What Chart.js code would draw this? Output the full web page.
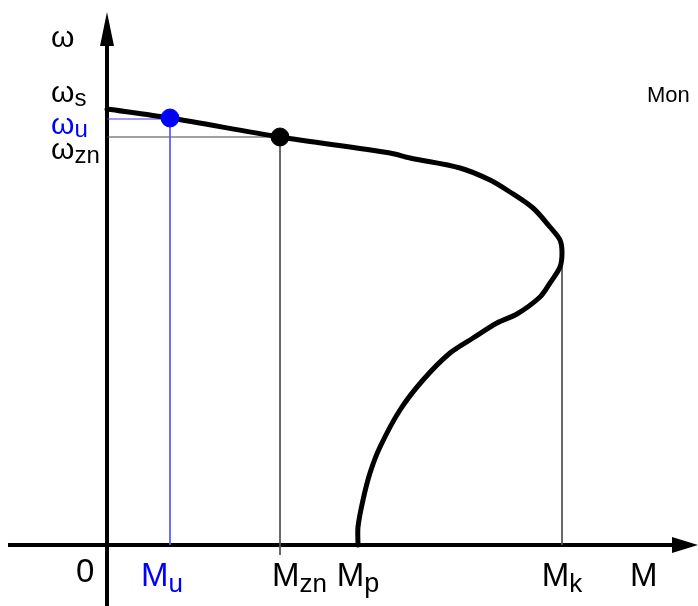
<!DOCTYPE html>
<html>
<head>
<meta charset="utf-8">
<script src="https://cdn.jsdelivr.net/npm/chart.js@4"></script>
<style>
  html, body { margin: 0; padding: 0; background: #fff; }
  #wrap { width: 698px; height: 606px; position: relative; }
</style>
</head>
<body>
<div id="wrap"><canvas id="chart"></canvas></div>
<script>
// torque (M) and speed (omega) of the characteristic
const curveM     = [0, 63, 173, 283, 303, 353, 383, 403, 426, 443, 453, 455, 453, 443, 433, 410, 390, 366, 343, 316, 293, 273, 263, 256, 251, 251];
const curveOmega = [436, 427, 408, 392, 387, 377, 365, 353, 337, 318, 305, 292, 278, 262, 248, 231, 222, 207, 192, 165, 135, 98, 72, 45, 18, 0];

// named operating points
const Mu = 63,  omegaU = 426;
const Mzn = 173, omegaZn = 408;
const Mp = 251;
const Mk = 455, omegaK = 292;
const omegaS = 436;

// axis extents
const xRange = [-107, 591];
const yRange = [-61, 545];

const toPts = (xs, ys) => xs.map((x, i) => ({ x: x, y: ys[i] }));

const FONT = '"Liberation Sans", Arial, sans-serif';

// axes with arrow heads, drawn through the scales
const axesPlugin = {
  id: 'axes',
  beforeDatasetsDraw(chart) {
    const { ctx, scales: { x, y } } = chart;
    const x0 = x.getPixelForValue(0), y0 = y.getPixelForValue(0);
    ctx.save();
    ctx.strokeStyle = '#000';
    ctx.fillStyle = '#000';
    ctx.lineWidth = 4;
    // M axis
    ctx.beginPath();
    ctx.moveTo(x.getPixelForValue(-99), y0);
    ctx.lineTo(x.getPixelForValue(570), y0);
    ctx.stroke();
    ctx.beginPath();
    ctx.moveTo(x.getPixelForValue(591), y0);
    ctx.lineTo(x.getPixelForValue(565), y0 - 8);
    ctx.lineTo(x.getPixelForValue(565), y0 + 8);
    ctx.closePath();
    ctx.fill();
    // omega axis
    ctx.beginPath();
    ctx.moveTo(x0, y.getPixelForValue(-61));
    ctx.lineTo(x0, y.getPixelForValue(505));
    ctx.stroke();
    ctx.beginPath();
    ctx.moveTo(x0, y.getPixelForValue(533));
    ctx.lineTo(x0 - 7, y.getPixelForValue(499));
    ctx.lineTo(x0 + 7, y.getPixelForValue(499));
    ctx.closePath();
    ctx.fill();
    ctx.restore();
  },
  afterDraw(chart) {
    const { ctx, scales: { x, y } } = chart;
    const x0 = x.getPixelForValue(0), y0 = y.getPixelForValue(0);

    // text with a lowered subscript; align: 'left' | 'center'
    function label(main, sub, px, py, color, size, subSize, align, drop) {
      ctx.save();
      ctx.fillStyle = color;
      ctx.textBaseline = 'alphabetic';
      ctx.font = size + 'px ' + FONT;
      const w1 = ctx.measureText(main).width;
      ctx.font = subSize + 'px ' + FONT;
      const w2 = sub ? ctx.measureText(sub).width : 0;
      let left = align === 'center' ? px - (w1 + w2) / 2 : px;
      ctx.textAlign = 'left';
      ctx.font = size + 'px ' + FONT;
      ctx.fillText(main, left, py);
      if (sub) {
        ctx.font = subSize + 'px ' + FONT;
        ctx.fillText(sub, left + w1, py + drop);
      }
      ctx.restore();
    }

    // omega labels on the left
    label('ω', '', 51, y.getPixelForValue(498), '#000', 30, 24, 'left', 0);
    label('ω', 's', 51, y.getPixelForValue(omegaS) - 7, '#000', 30, 24, 'left', 4);
    label('ω', 'u', 51, y.getPixelForValue(omegaU) + 15, '#00f', 30, 24, 'left', 3);
    label('ω', 'zn', 51, y.getPixelForValue(omegaZn) + 22, '#000', 30, 24, 'left', 4);

    // M labels below the axis
    const base = y0 + 41;
    label('0', '', x0 - 31, base - 4, '#000', 33, 24, 'left', 0);
    label('M', 'u', x.getPixelForValue(Mu) - 8, base, '#00f', 33, 26, 'center', 6);
    label('M', 'zn', x.getPixelForValue(Mzn) - 8, base, '#000', 33, 26, 'left', 6);
    label('M', 'p', x.getPixelForValue(Mp), base, '#000', 33, 27, 'center', 6);
    label('M', 'k', x.getPixelForValue(Mk), base, '#000', 33, 26, 'center', 6);
    label('M', '', x.getPixelForValue(523), base, '#000', 33, 26, 'left', 0);

    // truncated legend text at the right edge
    ctx.save();
    ctx.fillStyle = '#000';
    ctx.font = '22px ' + FONT;
    ctx.fillText('Mon', 647, y.getPixelForValue(443));
    ctx.restore();
  }
};

const thin = (pts, color, order) => ({
  data: pts,
  showLine: true,
  borderColor: color,
  borderWidth: 1,
  pointRadius: 0,
  order: order
});

new Chart(document.getElementById('chart'), {
  type: 'scatter',
  data: {
    datasets: [
      {
        data: [{ x: Mu, y: omegaU + 1 }],
        backgroundColor: '#0000ff',
        borderColor: '#0000ff',
        pointRadius: 9,
        pointHoverRadius: 9,
        order: 0
      },
      {
        data: [{ x: Mzn, y: omegaZn }],
        backgroundColor: '#000',
        borderColor: '#000',
        pointRadius: 9,
        pointHoverRadius: 9,
        order: 0
      },
      {
        data: toPts(curveM, curveOmega),
        showLine: true,
        borderColor: '#000',
        borderWidth: 5,
        borderCapStyle: 'round',
        borderJoinStyle: 'round',
        tension: 0.3,
        pointRadius: 0,
        order: 1
      },
      thin([{ x: 0, y: omegaU }, { x: Mu, y: omegaU }], '#3a3aff', 2),
      thin([{ x: Mu, y: omegaU }, { x: Mu, y: 0 }], '#5a5aff', 2),
      thin([{ x: 0, y: omegaZn }, { x: Mzn, y: omegaZn }], '#444', 2),
      thin([{ x: Mzn, y: omegaZn }, { x: Mzn, y: -10 }], '#555', 2),
      thin([{ x: Mk, y: omegaK }, { x: Mk, y: 0 }], '#555', 2)
    ]
  },
  options: {
    responsive: true,
    maintainAspectRatio: false,
    animation: false,
    layout: { padding: 0, autoPadding: false },
    plugins: { legend: { display: false }, tooltip: { enabled: false } },
    scales: {
      x: { type: 'linear', min: xRange[0], max: xRange[1], display: false },
      y: { type: 'linear', min: yRange[0], max: yRange[1], display: false }
    }
  },
  plugins: [axesPlugin]
});
</script>
</body>
</html>
